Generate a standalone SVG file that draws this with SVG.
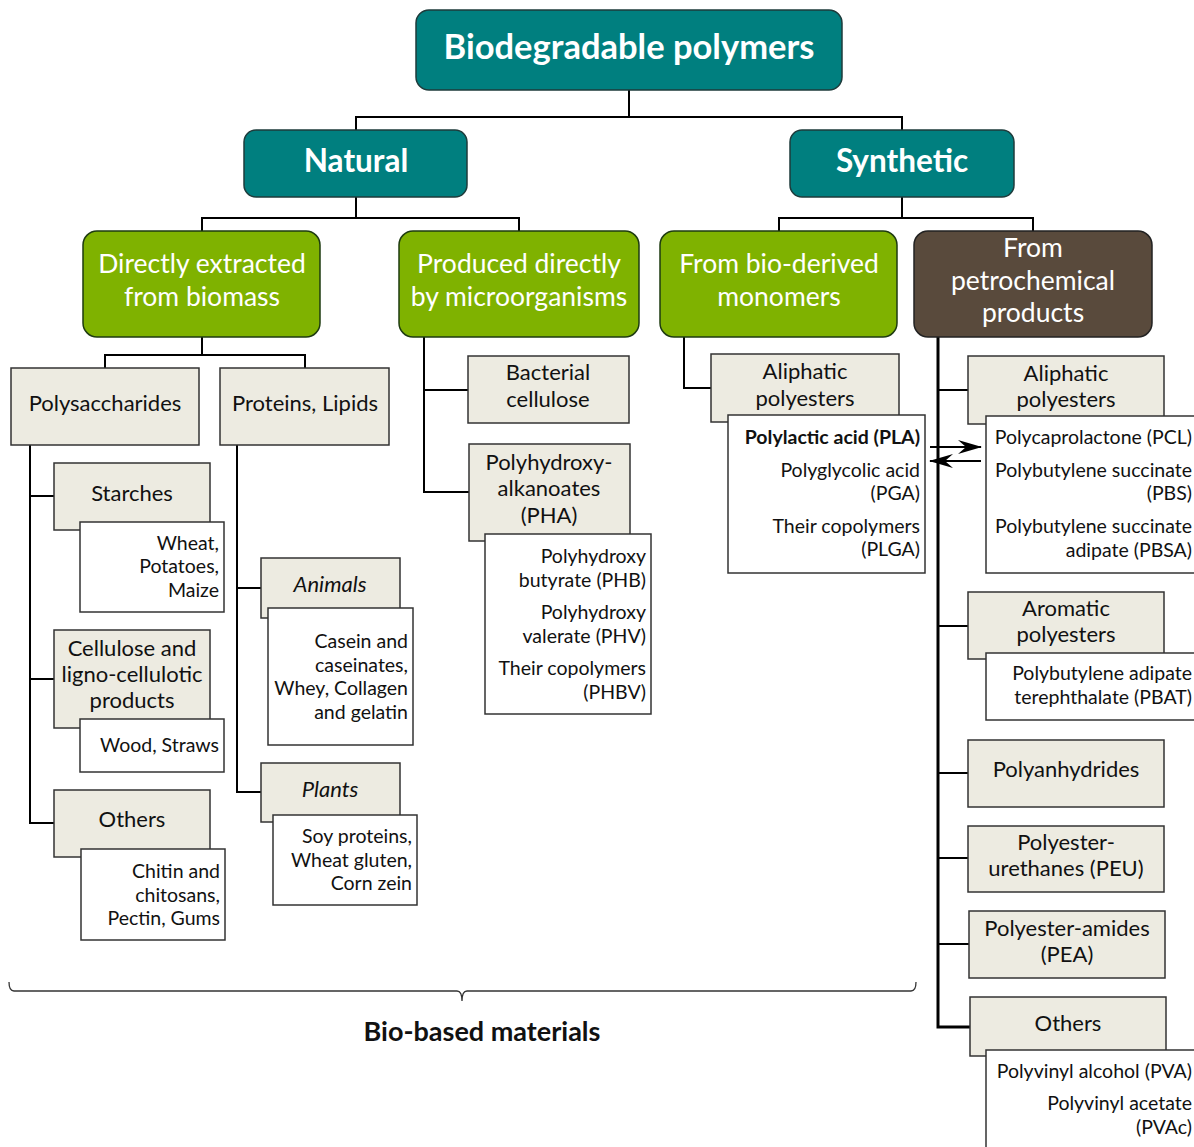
<svg xmlns="http://www.w3.org/2000/svg" width="1194" height="1147" viewBox="0 0 1194 1147">
<defs>
<style>
text{font-family:Lato,"Open Sans","Liberation Sans",sans-serif;fill:#111}
.teal{fill:#007f7f;stroke:#1e3b3b;stroke-width:1.5}
.green{fill:#7fb200;stroke:#1e3b10;stroke-width:1.5}
.brown{fill:#594a3c;stroke:#222;stroke-width:1.5}
.beige{fill:#edebe1;stroke:#333;stroke-width:1.5}
.white{fill:#fff;stroke:#333;stroke-width:1.5}
.h1{font-size:34.5px;font-weight:bold;fill:#fff;text-anchor:middle}
.h2{font-size:31.5px;font-weight:bold;fill:#fff;text-anchor:middle}
.h3{font-size:26.5px;fill:#fff;text-anchor:middle}
.b{font-size:22px;text-anchor:middle}
.w{font-size:19.5px;text-anchor:end}
.it{font-style:italic}
.con{fill:none;stroke:#000;stroke-width:2}
.thick{stroke-width:3}
</style>
<marker id="ah" viewBox="0 0 24 14" refX="23" refY="7" markerWidth="24" markerHeight="14" markerUnits="userSpaceOnUse" orient="auto">
<path d="M0,0 L24,7 L0,14 L8,7 Z" fill="#000"/>
</marker>
</defs>

<g id="connectors">
<path class="con" d="M629,90 V117 M356,130 V117 H902 V130"/>
<path class="con" d="M356,197 V218 M202,231 V218 H519 V231"/>
<path class="con" d="M902,197 V218 M779,231 V218 H1033 V231"/>
<path class="con" d="M202,337 V355 M105,368 V355 H305 V368"/>
<path class="con" d="M30,445 V823 H54 M30,496 H54 M30,679 H54"/>
<path class="con" d="M237,445 V792 H261 M237,588 H261"/>
<path class="con" d="M424,337 V492 H469 M424,390 H468"/>
<path class="con" d="M684,337 V388 H711"/>
<path class="con thick" d="M938,337 V1027 H970"/>
<path class="con" d="M938,390 H968 M938,626 H968 M938,773 H968 M938,858 H968 M938,944 H969"/>
<path class="con" d="M930,447 H981" marker-end="url(#ah)"/>
<path class="con" d="M981,461 H930" marker-end="url(#ah)"/>
<path fill="none" stroke="#333" stroke-width="1.3" d="M9,982 Q9,991 14,991 H457 Q462,991 462,1001 Q462,991 467,991 H911 Q916,991 916,982"/>
</g>

<g id="n-root"><rect class="teal" x="416" y="10" width="426" height="80" rx="13"/><text class="h1" x="629" y="59">Biodegradable polymers</text></g>
<g id="n-natural"><rect class="teal" x="244" y="130" width="223" height="67" rx="12"/><text class="h2" x="356" y="172">Natural</text></g>
<g id="n-synthetic"><rect class="teal" x="790" y="130" width="224" height="67" rx="12"/><text class="h2" x="902" y="172">Synthetic</text></g>

<g id="n-direct"><rect class="green" x="83" y="231" width="237" height="106" rx="14"/><text class="h3" x="202" y="273">Directly extracted</text><text class="h3" x="202" y="306">from biomass</text></g>
<g id="n-micro"><rect class="green" x="399" y="231" width="240" height="106" rx="14"/><text class="h3" x="519" y="273">Produced directly</text><text class="h3" x="519" y="306">by microorganisms</text></g>
<g id="n-bioderived"><rect class="green" x="660" y="231" width="237" height="106" rx="14"/><text class="h3" x="779" y="273">From bio-derived</text><text class="h3" x="779" y="306">monomers</text></g>
<g id="n-petro"><rect class="brown" x="914" y="231" width="238" height="106" rx="14"/><text class="h3" x="1033" y="257">From</text><text class="h3" x="1033" y="290">petrochemical</text><text class="h3" x="1033" y="322">products</text></g>

<g id="n-polysacch"><rect class="beige" x="11" y="368" width="188" height="77"/><text class="b" x="105" y="411">Polysaccharides</text></g>
<g id="n-proteins"><rect class="beige" x="220" y="368" width="169" height="77"/><text class="b" x="305" y="411">Proteins, Lipids</text></g>

<g id="n-starches"><rect class="beige" x="54" y="463" width="156" height="67"/><text class="b" x="132" y="501">Starches</text></g>
<g id="n-starches-ex"><rect class="white" x="80" y="522" width="144" height="90"/><text class="w" x="219" y="550">Wheat,</text><text class="w" x="219" y="573">Potatoes,</text><text class="w" x="219" y="597">Maize</text></g>
<g id="n-cellulose"><rect class="beige" x="54" y="630" width="156" height="98"/><text class="b" x="132" y="656">Cellulose and</text><text class="b" x="132" y="682">ligno-cellulotic</text><text class="b" x="132" y="708">products</text></g>
<g id="n-cellulose-ex"><rect class="white" x="80" y="719" width="144" height="53"/><text class="w" x="219" y="752">Wood, Straws</text></g>
<g id="n-others1"><rect class="beige" x="54" y="790" width="156" height="67"/><text class="b" x="132" y="827">Others</text></g>
<g id="n-others1-ex"><rect class="white" x="81" y="849" width="144" height="91"/><text class="w" x="220" y="878">Chitin and</text><text class="w" x="220" y="902">chitosans,</text><text class="w" x="220" y="925">Pectin, Gums</text></g>

<g id="n-animals"><rect class="beige" x="261" y="558" width="139" height="60"/><text class="b it" x="330" y="592">Animals</text></g>
<g id="n-animals-ex"><rect class="white" x="268" y="608" width="145" height="137"/><text class="w" x="408" y="648">Casein and</text><text class="w" x="408" y="672">caseinates,</text><text class="w" x="408" y="695">Whey, Collagen</text><text class="w" x="408" y="719">and gelatin</text></g>
<g id="n-plants"><rect class="beige" x="261" y="763" width="139" height="59"/><text class="b it" x="330" y="797">Plants</text></g>
<g id="n-plants-ex"><rect class="white" x="273" y="815" width="144" height="90"/><text class="w" x="412" y="843">Soy proteins,</text><text class="w" x="412" y="867">Wheat gluten,</text><text class="w" x="412" y="890">Corn zein</text></g>

<g id="n-bactcell"><rect class="beige" x="468" y="356" width="161" height="67"/><text class="b" x="548" y="380">Bacterial</text><text class="b" x="548" y="407">cellulose</text></g>
<g id="n-pha"><rect class="beige" x="469" y="444" width="161" height="97"/><text class="b" x="549" y="470">Polyhydroxy-</text><text class="b" x="549" y="496">alkanoates</text><text class="b" x="549" y="523">(PHA)</text></g>
<g id="n-pha-ex"><rect class="white" x="485" y="534" width="166" height="180"/><text class="w" x="646" y="563">Polyhydroxy</text><text class="w" x="646" y="587">butyrate (PHB)</text><text class="w" x="646" y="619">Polyhydroxy</text><text class="w" x="646" y="643">valerate (PHV)</text><text class="w" x="646" y="675">Their copolymers</text><text class="w" x="646" y="699">(PHBV)</text></g>

<g id="n-aliph1"><rect class="beige" x="711" y="354" width="188" height="68"/><text class="b" x="805" y="379">Aliphatic</text><text class="b" x="805" y="406">polyesters</text></g>
<g id="n-aliph1-ex"><rect class="white" x="728" y="415" width="197" height="158"/><text class="w" x="920" y="444" font-weight="bold">Polylactic acid (PLA)</text><text class="w" x="920" y="477">Polyglycolic acid</text><text class="w" x="920" y="500">(PGA)</text><text class="w" x="920" y="533">Their copolymers</text><text class="w" x="920" y="556">(PLGA)</text></g>

<g id="n-aliph2"><rect class="beige" x="968" y="356" width="196" height="68"/><text class="b" x="1066" y="381">Aliphatic</text><text class="b" x="1066" y="407">polyesters</text></g>
<g id="n-aliph2-ex"><rect class="white" x="986" y="416" width="214" height="157"/><text class="w" x="1192" y="444">Polycaprolactone (PCL)</text><text class="w" x="1192" y="477">Polybutylene succinate</text><text class="w" x="1192" y="500">(PBS)</text><text class="w" x="1192" y="533">Polybutylene succinate</text><text class="w" x="1192" y="557">adipate (PBSA)</text></g>
<g id="n-arom"><rect class="beige" x="968" y="592" width="196" height="67"/><text class="b" x="1066" y="616">Aromatic</text><text class="b" x="1066" y="642">polyesters</text></g>
<g id="n-arom-ex"><rect class="white" x="986" y="653" width="214" height="67"/><text class="w" x="1192" y="680">Polybutylene adipate</text><text class="w" x="1192" y="704">terephthalate (PBAT)</text></g>
<g id="n-anhyd"><rect class="beige" x="968" y="740" width="196" height="67"/><text class="b" x="1066" y="777">Polyanhydrides</text></g>
<g id="n-peu"><rect class="beige" x="968" y="826" width="196" height="66"/><text class="b" x="1066" y="850">Polyester-</text><text class="b" x="1066" y="876">urethanes (PEU)</text></g>
<g id="n-pea"><rect class="beige" x="969" y="911" width="196" height="67"/><text class="b" x="1067" y="936">Polyester-amides</text><text class="b" x="1067" y="962">(PEA)</text></g>
<g id="n-others2"><rect class="beige" x="970" y="997" width="196" height="59"/><text class="b" x="1068" y="1031">Others</text></g>
<g id="n-others2-ex"><rect class="white" x="986" y="1050" width="214" height="100"/><text class="w" x="1192" y="1078">Polyvinyl alcohol (PVA)</text><text class="w" x="1192" y="1110">Polyvinyl acetate</text><text class="w" x="1192" y="1134">(PVAc)</text></g>

<g id="n-biobased"><text x="482" y="1041" font-size="27" font-weight="bold" text-anchor="middle">Bio-based materials</text></g>
</svg>
